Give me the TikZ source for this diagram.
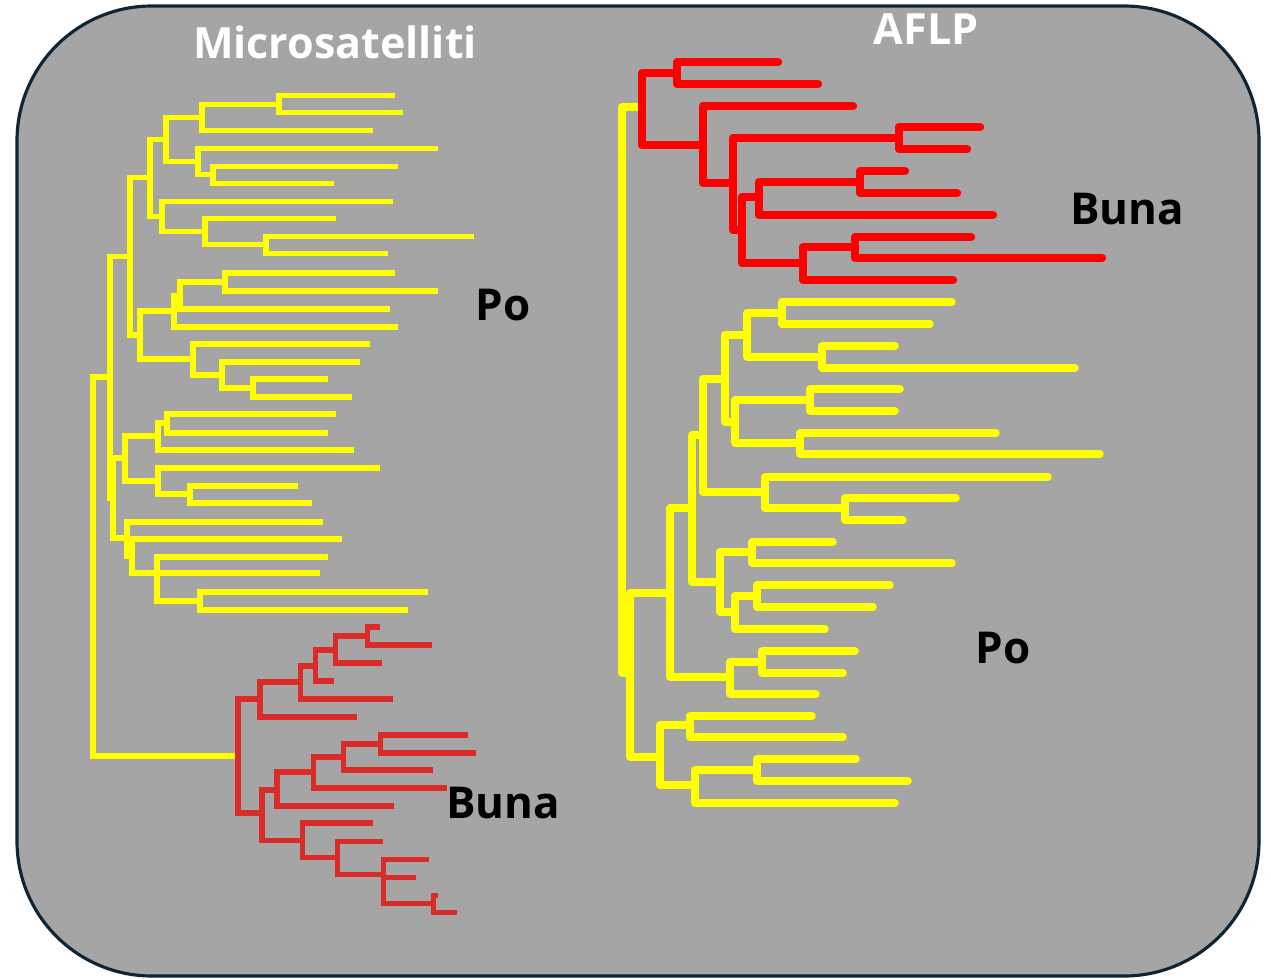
\documentclass[tikz,border=0pt]{standalone}
\usepackage{fontspec}
\setmainfont{Open Sans}
\definecolor{bg}{HTML}{A5A5A5}
\definecolor{frame}{HTML}{0F2535}
\definecolor{ylw}{HTML}{FFFF00}
\definecolor{lred}{HTML}{D92B27}
\definecolor{rred}{HTML}{FF0000}
\tikzset{
  ly/.style={draw=ylw, line width=2.85pt, line cap=butt, line join=miter},
  lr/.style={draw=lred, line width=2.85pt, line cap=butt, line join=miter},
  ry/.style={draw=ylw, line width=4.3pt, line cap=round, line join=round},
  rr/.style={draw=rred, line width=4.8pt, line cap=round, line join=round},
  title/.style={text=white, font=\bfseries\fontsize{24.5}{28}\selectfont, anchor=base},
  lbl/.style={text=black, font=\bfseries\fontsize{25}{30}\selectfont, anchor=base},
}
\begin{document}
\begin{tikzpicture}[x=0.02cm, y=-0.02cm]
\useasboundingbox (0,0) rectangle (1271,979);
\draw[fill=bg, draw=frame, line width=1.8pt, rounded corners=2.7cm] (17,6) rectangle (1259,976);

% ---------- left tree (Microsatelliti), yellow ----------
\draw[ly] (395,96) -| (279,113) -- (403,113);
\draw[ly] (279,105) -| (202,131) -- (373,131);
\draw[ly] (398,167) -| (213,184) -- (334,184);
\draw[ly] (438,149) -| (198,175) -- (213,175);
\draw[ly] (202,118) -| (166,162) -- (198,162);
\draw[ly] (474,237) -| (266,254) -- (388,254);
\draw[ly] (336,219) -| (205,245) -- (266,245);
\draw[ly] (393,202) -| (162,232) -- (205,232);
\draw[ly] (166,140) -| (150,217) -- (162,217);
\draw[ly] (150,178) -| (130,335) -- (140,335);
\draw[ly] (395,273) -| (225,291) -- (438,291);
\draw[ly] (225,282) -| (180,309) -- (390,309);
\draw[ly] (180,296) -| (174,327) -- (398,327);
\draw[ly] (328,379) -| (253,397) -- (352,397);
\draw[ly] (360,362) -| (222,388) -- (253,388);
\draw[ly] (370,344) -| (193,375) -- (222,375);
\draw[ly] (174,311) -| (140,359) -- (193,359);
\draw[ly] (336,414) -| (167,433) -- (328,433);
\draw[ly] (167,423) -| (158,450) -- (354,450);
\draw[ly] (298,486) -| (190,503) -- (312,503);
\draw[ly] (380,468) -| (158,494) -- (190,494);
\draw[ly] (158,436) -| (125,481) -- (158,481);
\draw[ly] (428,592) -| (200,610) -- (408,610);
\draw[ly] (328,557) -| (157,601) -- (200,601);
\draw[ly] (342,539) -| (132,573) -- (320,573);
\draw[ly] (323,522) -| (127,556) -- (132,556);
\draw[ly] (125,458) -| (113,538) -- (127,538);
\draw[ly] (130,257) -| (110,498) -- (113,498);
\draw[ly] (110,377) -| (93,756) -- (238,756);

% ---------- left tree, red ----------
\draw[lr] (380,627) -| (367,645) -- (432,645);
\draw[lr] (367,636) -| (335,663) -- (382,663);
\draw[lr] (335,650) -| (315,681) -- (334,681);
\draw[lr] (315,666) -| (300,699) -- (393,699);
\draw[lr] (300,682) -| (260,717) -- (357,717);
\draw[lr] (260,699) -| (238,813) -- (262,813);
\draw[lr] (468,735) -| (380,753) -- (476,753);
\draw[lr] (380,744) -| (343,770) -- (433,770);
\draw[lr] (343,757) -| (313,788) -- (447,788);
\draw[lr] (313,772) -| (277,806) -- (394,806);
\draw[lr] (277,790) -| (262,840) -- (302,840);
\draw[lr] (373,823) -| (302,857) -- (337,857);
\draw[lr] (383,841) -| (337,874) -- (383,874);
\draw[lr] (429,859) -| (383,903) -- (433,903);
\draw[lr] (383,877) -- (416,877);
\draw[lr] (438,895) -| (433,912) -- (457,912);

% ---------- right tree (AFLP), yellow root ----------
\draw[ry] (638,107) -| (622,673) -- (630,673);

% ---------- right tree, red ----------
\draw[rr] (778,62) -| (677,84) -- (818,84);
\draw[rr] (677,73) -| (642,145) -- (703,145);
\draw[rr] (980,127) -| (899,149) -- (967,149);
\draw[rr] (905,171) -| (860,193) -- (957,193);
\draw[rr] (860,182) -| (759,215) -- (993,215);
\draw[rr] (971,237) -| (855,258) -- (1102,258);
\draw[rr] (855,247) -| (803,280) -- (953,280);
\draw[rr] (759,197) -| (742,263) -- (803,263);
\draw[rr] (899,138) -| (733,230) -- (742,230);
\draw[rr] (853,106) -| (703,183) -- (733,183);

% ---------- right tree, yellow ----------
\draw[ry] (952,302) -| (782,324) -- (930,324);
\draw[ry] (895,346) -| (822,368) -- (1075,368);
\draw[ry] (782,313) -| (747,357) -- (822,357);
\draw[ry] (900,389) -| (810,411) -- (895,411);
\draw[ry] (996,433) -| (800,454) -- (1100,454);
\draw[ry] (810,400) -| (735,443) -- (800,443);
\draw[ry] (747,335) -| (725,422) -- (735,422);
\draw[ry] (956,498) -| (845,520) -- (903,520);
\draw[ry] (1048,477) -| (765,508) -- (845,508);
\draw[ry] (725,379) -| (703,492) -- (765,492);
\draw[ry] (833,542) -| (752,563) -- (952,563);
\draw[ry] (890,585) -| (757,607) -- (873,607);
\draw[ry] (757,596) -| (735,629) -- (825,629);
\draw[ry] (752,552) -| (720,612) -- (735,612);
\draw[ry] (703,435) -| (692,582) -- (720,582);
\draw[ry] (855,651) -| (762,673) -- (843,673);
\draw[ry] (762,662) -| (730,694) -- (816,694);
\draw[ry] (692,508) -| (670,677) -- (730,677);
\draw[ry] (812,716) -| (690,737) -- (843,737);
\draw[ry] (856,759) -| (757,781) -- (908,781);
\draw[ry] (757,770) -| (695,803) -- (895,803);
\draw[ry] (690,725) -| (660,785) -- (695,785);
\draw[ry] (670,593) -| (630,757) -- (660,757);

% ---------- labels ----------
\node[title] (tmicro) at (335,59) {Microsatelliti};
\node[title] (taflp) at (926,45) {AFLP};
\node[lbl] (po1) at (503,321) {Po};
\node[lbl] (buna1) at (1127,225) {Buna};
\node[lbl] (po2) at (1003,663) {Po};
\node[lbl] (buna2) at (503,818) {Buna};
\end{tikzpicture}
\end{document}
